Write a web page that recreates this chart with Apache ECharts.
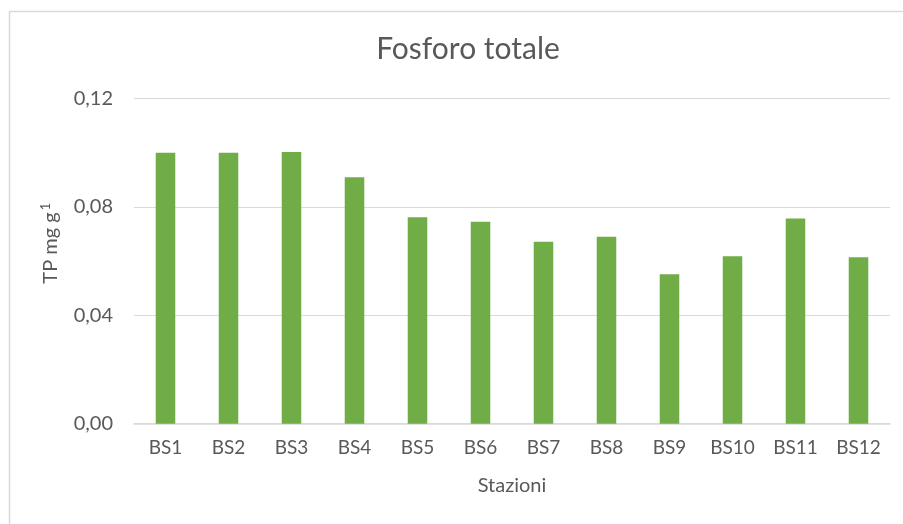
<!DOCTYPE html>
<html>
<head>
<meta charset="utf-8">
<script src="https://cdn.jsdelivr.net/npm/echarts@6/dist/echarts.min.js"></script>
<style>
  html, body { margin: 0; padding: 0; background: #ffffff; }
  #chart { width: 903px; height: 524px; }
</style>
</head>
<body>
<div id="chart"></div>
<script>
// Stations sampled and total phosphorus (mg/g) at each
const stations = ['BS1', 'BS2', 'BS3', 'BS4', 'BS5', 'BS6', 'BS7', 'BS8', 'BS9', 'BS10', 'BS11', 'BS12'];
const tpValues = [0.100, 0.100, 0.1003, 0.0910, 0.0762, 0.0746, 0.0672, 0.0690, 0.0552, 0.0618, 0.0758, 0.0615];
const yTicks = [0, 0.04, 0.08, 0.12];

const FONT = 'Lato, "Open Sans", sans-serif';
const GREY = '#595959';

const chart = echarts.init(document.getElementById('chart'), null, { renderer: 'canvas' });

chart.setOption({
  animation: false,
  backgroundColor: '#ffffff',
  textStyle: { fontFamily: FONT },
  graphic: [{
    type: 'rect',
    silent: true,
    shape: { x: 9.5, y: 11.5, width: 920, height: 540 },
    style: { fill: 'none', stroke: '#d9d9d9', lineWidth: 1.5 }
  }],
  title: {
    text: 'Fosforo totale',
    left: 463,
    textAlign: 'center',
    top: 29,
    textStyle: { fontFamily: FONT, fontSize: 30, fontWeight: 'normal', color: GREY }
  },
  grid: { left: 134, right: 13, top: 98.7, bottom: 100.3, containLabel: false },
  xAxis: {
    type: 'category',
    data: stations,
    name: 'Stazioni',
    nameLocation: 'middle',
    nameGap: 52,
    nameTextStyle: { fontFamily: FONT, fontSize: 20, color: GREY },
    axisLine: { lineStyle: { color: '#d9d9d9', width: 1.5 } },
    axisTick: { show: false },
    axisLabel: { color: GREY, fontSize: 19, fontFamily: FONT, margin: 15 }
  },
  yAxis: {
    type: 'value',
    min: yTicks[0],
    max: yTicks[yTicks.length - 1],
    interval: yTicks[1] - yTicks[0],
    name: '{n|TP mg g}{s|1}',
    nameLocation: 'middle',
    nameGap: 72,
    nameRotate: 90,
    nameTextStyle: {
      padding: [0, 0, 0, 36],
      rich: {
        n: { fontFamily: FONT, fontSize: 20, color: GREY },
        s: { fontFamily: FONT, fontSize: 13, color: GREY, verticalAlign: 'top', padding: [0, 0, 10, 2] }
      }
    },
    axisLine: { show: false },
    axisTick: { show: false },
    splitLine: { lineStyle: { color: '#d9d9d9', width: 1 } },
    axisLabel: {
      color: GREY,
      fontSize: 20,
      fontFamily: FONT,
      margin: 21,
      formatter: v => v.toFixed(2).replace('.', ',')
    }
  },
  series: [{
    type: 'bar',
    data: tpValues,
    barWidth: '31%',
    itemStyle: { color: '#70ad47' }
  }]
});
</script>
</body>
</html>
